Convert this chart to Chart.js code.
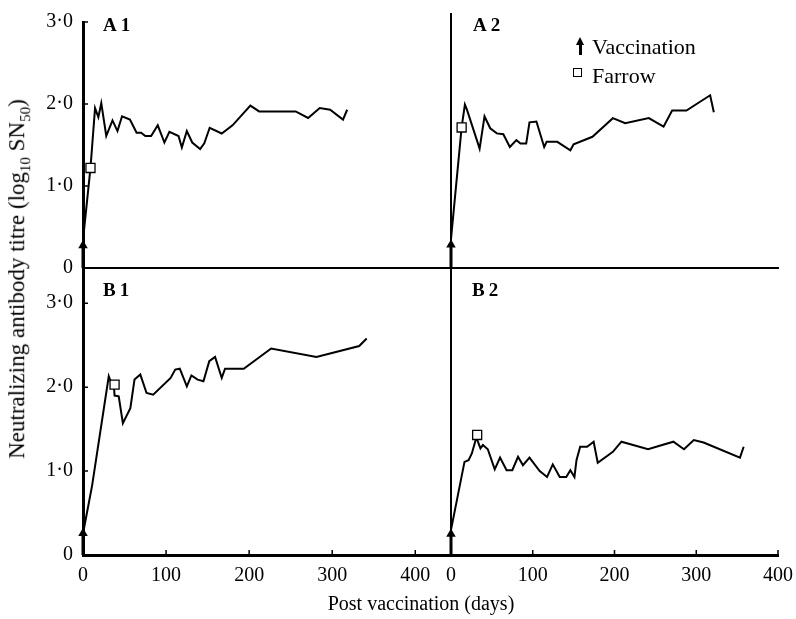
<!DOCTYPE html>
<html>
<head>
<meta charset="utf-8">
<script src="https://cdn.jsdelivr.net/npm/chart.js@4.4.1/dist/chart.umd.min.js"></script>
<style>
html, body { margin: 0; padding: 0; background: #fff; }
#page { position: relative; width: 796px; height: 619px; overflow: hidden;
        font-family: "Liberation Serif", "Times New Roman", serif; color: #000; }
#page canvas { position: absolute; left: 0; top: 0; }
.txt { position: absolute; white-space: nowrap; z-index: 5; }
.tag { font-weight: bold; font-size: 19px; letter-spacing: 4px; }
.ytitle { left: 19px; top: 279px; font-size: 23px; transform: translate(-50%, -50%) rotate(-90deg); }
.xtitle { left: 421px; top: 603px; font-size: 20px; transform: translate(-50%, -50%); }
.legend { font-size: 22px; }
.arrow { position: absolute; left: 576px; top: 37px; width: 8px; height: 18px; z-index: 5; }
.arrow::before { content: ''; position: absolute; left: 0; top: 0;
                 border-left: 4px solid transparent; border-right: 4px solid transparent;
                 border-bottom: 8px solid #000; }
.arrow::after { content: ''; position: absolute; left: 3px; top: 7px; width: 2.5px; height: 11px; background: #000; }
.box { position: absolute; left: 573px; top: 68px; width: 7px; height: 7px; border: 1.5px solid #000; z-index: 5; }
</style>
</head>
<body>
<div id="page">
  <div class="txt ytitle">Neutralizing antibody titre (log<sub style="font-size:15px">10</sub> SN<sub style="font-size:15px">50</sub>)</div>
  <div class="txt xtitle">Post vaccination (days)</div>
  <div class="txt tag" style="left:103px;top:14px">A1</div>
  <div class="txt tag" style="left:473px;top:14px">A2</div>
  <div class="txt tag" style="left:103px;top:279px">B1</div>
  <div class="txt tag" style="left:472px;top:279px">B2</div>
  <div class="arrow"></div>
  <div class="txt legend" style="left:592px;top:34px">Vaccination</div>
  <div class="box"></div>
  <div class="txt legend" style="left:592px;top:63px">Farrow</div>
</div>
<script>
// days post vaccination / log10 SN50 titre
const A1_DAYS  = [0, 9, 14.5, 18.5, 22, 28, 35.5, 41.5, 47, 56.5, 64.5, 70, 75, 82, 90, 98, 104, 115, 119, 125, 131.5, 141, 146, 152.5, 167, 180, 201.5, 212, 256, 271, 285, 297.5, 313, 318];
const A1_TITRE = [0.34, 1.22, 1.95, 1.84, 2.01, 1.61, 1.80, 1.67, 1.85, 1.81, 1.65, 1.65, 1.61, 1.61, 1.74, 1.53, 1.66, 1.61, 1.47, 1.67, 1.53, 1.45, 1.52, 1.71, 1.64, 1.74, 1.98, 1.91, 1.91, 1.83, 1.95, 1.93, 1.81, 1.93];

const A2_DAYS  = [0, 13, 17, 19.5, 35, 41, 48, 56, 64, 72, 80, 85, 92, 96, 104.5, 114, 117, 130, 146, 150, 173, 198, 213, 242, 260, 270.5, 288, 317, 321.5];
const A2_TITRE = [0.34, 1.66, 1.93, 1.87, 1.41, 1.79, 1.65, 1.59, 1.58, 1.43, 1.51, 1.47, 1.47, 1.72, 1.73, 1.43, 1.49, 1.49, 1.39, 1.46, 1.55, 1.77, 1.71, 1.77, 1.67, 1.86, 1.86, 2.04, 1.84];

const B1_DAYS  = [0.5, 11, 31, 34, 37, 38, 43, 48, 57, 62, 69, 76.5, 84.5, 105.5, 111, 116.5, 125, 130.5, 138, 145, 152, 159, 167, 171, 193.5, 226.5, 281, 332.5, 341.5];
const B1_TITRE = [0.28, 0.83, 2.13, 2.05, 2.04, 1.90, 1.89, 1.57, 1.75, 2.09, 2.15, 1.93, 1.91, 2.11, 2.21, 2.22, 2.01, 2.14, 2.09, 2.07, 2.31, 2.36, 2.11, 2.22, 2.22, 2.46, 2.36, 2.49, 2.58];

const B2_DAYS  = [0, 16.5, 21.5, 25.5, 31, 36, 39, 45, 53.5, 60, 68, 75, 82, 88, 96, 108.5, 117.5, 124.5, 133, 141, 146, 151, 153.5, 158, 166.5, 174.5, 179.5, 198, 208.5, 241, 272, 285, 297, 309, 353.5, 358];
const B2_TITRE = [0.30, 1.11, 1.13, 1.21, 1.40, 1.27, 1.31, 1.26, 1.02, 1.16, 1.01, 1.01, 1.17, 1.07, 1.16, 1.00, 0.93, 1.08, 0.93, 0.93, 1.01, 0.93, 1.13, 1.29, 1.29, 1.35, 1.10, 1.23, 1.35, 1.26, 1.35, 1.26, 1.37, 1.34, 1.16, 1.29];

// order: A1, A2, B1, B2
const FARROW_DAY   = [9, 13, 38, 32];
const FARROW_TITRE = [1.22, 1.66, 2.03, 1.43];
const VACC_DAY     = [0, 0, 0, 0];
const VACC_HEAD    = [0.275, 0.275, 0.26, 0.25];

const X_TICKS = [0, 100, 200, 300, 400];
const Y_TICKS = [0, 1, 2, 3];
const Y_TICK_LABELS = ['0', '1·0', '2·0', '3·0'];

// canvases are a bit wider than the page so the last x label never squeezes the plot
const W = 840, H = 619;
const FONT = { family: '"Liberation Serif", "Times New Roman", serif', size: 20 };

// pixel boxes of each panel's plot area
const PANELS = [
    { days: A1_DAYS, titre: A1_TITRE, left: 83,  right: 451, top: 14,  bottom: 268, xMax: 443, yMax: 3.0,  yLab: true,  xLab: false, yBorder: 3, xBorder: 2 },
    { days: A2_DAYS, titre: A2_TITRE, left: 451, right: 778, top: 14,  bottom: 268, xMax: 400, yMax: 3.0,  yLab: false, xLab: false, yBorder: 2, xBorder: 2 },
    { days: B1_DAYS, titre: B1_TITRE, left: 83,  right: 451, top: 268, bottom: 555, xMax: 443, yMax: 3.42, yLab: true,  xLab: true,  yBorder: 3, xBorder: 3 },
    { days: B2_DAYS, titre: B2_TITRE, left: 451, right: 778, top: 268, bottom: 555, xMax: 400, yMax: 3.42, yLab: false, xLab: true,  yBorder: 2, xBorder: 3 },
];

// short tick marks pointing into the plot
const inwardTicks = {
    id: 'inTicks',
    afterDraw(chart, args, opts) {
        const { ctx, chartArea: a, scales } = chart;
        ctx.save();
        ctx.strokeStyle = '#000';
        ctx.lineWidth = 1.5;
        ctx.beginPath();
        if (opts.x) scales.x.ticks.forEach(t => {
            if (!t.value) return;
            const px = scales.x.getPixelForValue(t.value);
            ctx.moveTo(px, a.bottom);
            ctx.lineTo(px, a.bottom - opts.len);
        });
        if (opts.y) scales.y.ticks.forEach(t => {
            if (!t.value) return;
            const py = scales.y.getPixelForValue(t.value);
            ctx.moveTo(a.left, py);
            ctx.lineTo(a.left + opts.len, py);
        });
        ctx.stroke();
        ctx.restore();
    }
};

const page = document.getElementById('page');

PANELS.forEach((p, i) => {
    const canvas = document.createElement('canvas');
    canvas.width = W;
    canvas.height = H;
    page.appendChild(canvas);

    const yW = p.yLab ? p.left : 0;
    const xH = p.xLab ? 40 : 0;

    new Chart(canvas, {
        type: 'line',
        data: {
            datasets: [
                {   // farrow marker
                    data: [{ x: FARROW_DAY[i], y: FARROW_TITRE[i] }],
                    showLine: false,
                    pointStyle: 'rect',
                    pointRadius: 6.4,
                    pointBorderWidth: 1.3,
                    pointBorderColor: '#000',
                    pointBackgroundColor: '#fff',
                    clip: false,
                },
                {
                    data: p.days.map((d, j) => ({ x: d, y: p.titre[j] })),
                    borderColor: '#000',
                    borderWidth: 2,
                    pointRadius: 0,
                    tension: 0,
                    clip: false,
                },
                {   // vaccination arrow
                    data: [{ x: VACC_DAY[i], y: 0 }, { x: VACC_DAY[i], y: VACC_HEAD[i] }],
                    borderColor: '#000',
                    borderWidth: 3,
                    pointStyle: 'triangle',
                    pointRadius: [0, 5.5],
                    pointBorderWidth: 0,
                    pointBackgroundColor: '#000',
                    clip: false,
                },
            ]
        },
        options: {
            responsive: false,
            animation: false,
            events: [],
            layout: {
                autoPadding: false,
                padding: { left: p.left - yW, right: W - p.right, top: p.top, bottom: H - p.bottom - xH }
            },
            scales: {
                x: {
                    type: 'linear',
                    min: 0,
                    max: p.xMax,
                    grid: { display: false, drawTicks: false },
                    border: { display: true, color: '#000', width: p.xBorder },
                    ticks: { display: p.xLab, color: '#000', font: FONT, padding: 9, autoSkip: false, maxRotation: 0 },
                    afterBuildTicks: s => { s.ticks = X_TICKS.map(v => ({ value: v })); },
                    afterFit: s => { s.height = xH; },
                },
                y: {
                    type: 'linear',
                    min: 0,
                    max: p.yMax,
                    grid: { display: false, drawTicks: false },
                    border: { display: true, color: '#000', width: p.yBorder },
                    ticks: {
                        display: p.yLab, color: '#000', font: FONT, padding: 10, autoSkip: false,
                        callback: v => Y_TICK_LABELS[Y_TICKS.indexOf(v)]
                    },
                    afterBuildTicks: s => { s.ticks = Y_TICKS.map(v => ({ value: v })); },
                    afterFit: s => { s.width = yW; },
                }
            },
            plugins: {
                legend: { display: false },
                tooltip: { enabled: false },
                inTicks: { x: p.xLab, y: p.yLab, len: 5 }
            }
        },
        plugins: [inwardTicks]
    });
});
</script>
</body>
</html>
